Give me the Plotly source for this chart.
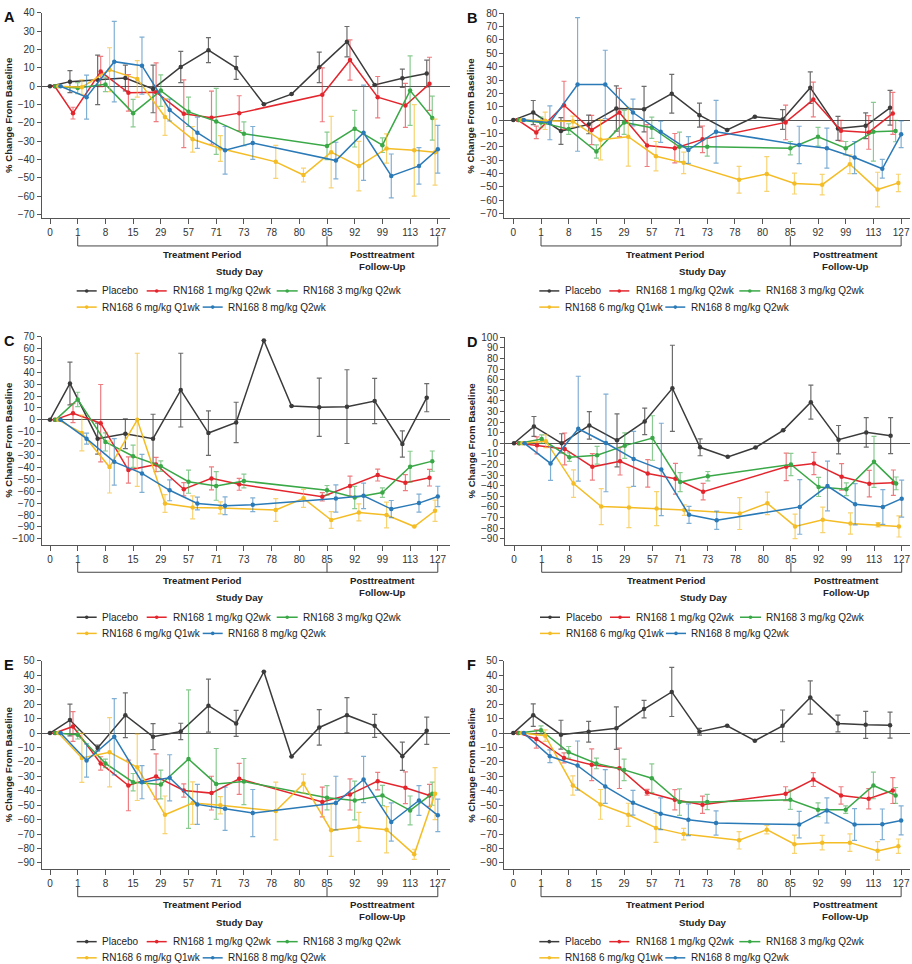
import plotly.graph_objects as go

W, H = 912, 964

TICK_DAYS = [0, 1, 8, 15, 29, 57, 71, 73, 78, 80, 85, 92, 99, 113, 127]
VISITS_PBO = TICK_DAYS
VISITS_Q2 = [0, 1, 8, 15, 29, 57, 71, 73, 85, 92, 99, 113, 127]
VISITS_Q1 = [0, 1, 8, 15, 29, 57, 71, 78, 80, 85, 92, 99, 113, 127]

SERIES = ["Placebo", "RN168 1 mg/kg Q2wk", "RN168 3 mg/kg Q2wk",
          "RN168 6 mg/kg Q1wk", "RN168 8 mg/kg Q2wk"]
SERIES_VISITS = [VISITS_PBO, VISITS_Q2, VISITS_Q2, VISITS_Q1, VISITS_Q2]

# ---------------- Panel A ----------------
A_PBO = [0, 2.5, 3.5, 4.5, -1.5, 10.5, 19.7, 10, -9.8, -4.3, 10.3, 24.3, 0.7, 4.3, 6.9]
A_PBO_SE = [0, 6, 13.5, 7, 13, 8.5, 6.8, 6.3, 0, 0, 8.3, 8.3, 0, 5, 7.3]
A_1MG = [0, -14.7, 8, -3.6, -3.3, -15, -17.2, -14.7, -4.7, 14.3, -6, -10.5, 1.3]
A_1MG_SE = [0, 3.2, 8.3, 10, 16, 18.5, 14.5, 9.5, 14.7, 11, 11.3, 12, 14.5]
A_3MG = [0, -1, 1, -14.7, -2.4, -14, -19.2, -26, -32.6, -23.2, -32.2, -2.4, -17.4]
A_3MG_SE = [0, 3, 4, 7.5, 8.6, 8, 18, 6.5, 7.5, 10, 4, 19, 12]
A_6MG = [0, -0.5, 9, 4, -16.8, -29, -34, -41.3, -48.5, -36, -43.6, -34, -35, -36]
A_6MG_SE = [0, 4, 12, 10, 10, 7, 7, 9, 3.8, 19.5, 13.5, 8, 25, 18]
A_8MG = [0, -6, 13.4, 11.2, -13, -25.4, -35, -31, -40.6, -25.4, -49, -43.5, -34.4]
A_8MG_SE = [0, 12, 22, 15.6, 6, 8.5, 13, 9, 10, 26, 12, 10, 13]

# ---------------- Panel B ----------------
B_PBO = [0, 5.7, -8.2, -3.2, 8.7, 8.2, 19.8, 3.7, -7.4, 2.5, 0.5, 24.3, -6.2, -4.2, 9.2]
B_PBO_SE = [0, 9, 10, 7, 17, 17, 14.5, 9, 0, 0, 7.4, 11.8, 9, 9.6, 13]
B_1MG = [0, -9.2, 11.1, -7.4, 5.7, -19, -21, -14.4, -1.7, 15.4, -7.9, -9.2, 5]
B_1MG_SE = [0, 4.7, 18, 11, 18, 15.7, 11, 10, 13, 13, 7.8, 12.6, 15.7]
B_3MG = [0, -1.7, -6.7, -23.5, -1.7, -5.7, -20, -20, -21, -12.4, -21, -8.7, -8.2]
B_3MG_SE = [0, 4, 4, 5, 9, 8, 11, 7, 5, 7, 5, 22, 8]
B_6MG = [0, -0.5, -1, -14.7, -12.4, -27, -32, -44.6, -40.3, -47.5, -48.3, -33, -52, -47]
B_6MG_SE = [0, 6.5, 4, 15, 22, 11, 8, 10, 13, 7.8, 7.7, 7, 13, 6.5]
B_8MG = [0, -2, 26.7, 26.7, 5.7, -8.7, -22.3, -8.7, -18.6, -21, -28, -36.4, -10.6]
B_8MG_SE = [0, 12.7, 50, 25.6, 10, 8, 10, 23.5, 14, 15, 12, 7, 10]

# ---------------- Panel C ----------------
C_PBO = [0, 30.6, -15.8, -11.7, -15.8, 25, -11.1, -2.2, 66.7, 11.7, 10.6, 11.1, 15.8, -20.3, 18.6]
C_PBO_SE = [0, 18, 13, 12.5, 20.5, 31, 18.7, 17, 0, 0, 24.5, 31, 19, 11, 11.8]
C_1MG = [0, 5.6, -2.8, -42.2, -37.5, -58.3, -49.2, -54.2, -64.7, -55.6, -46.4, -52.8, -48.6]
C_1MG_SE = [0, 8, 32.5, 11, 6, 5.6, 9.7, 5, 3.5, 8.3, 5, 6.7, 7]
C_3MG = [0, 17.2, -18.6, -30.6, -38.9, -52, -55.6, -51.4, -59.2, -65.3, -61.1, -39.4, -34.7]
C_3MG_SE = [0, 6, 7.6, 9.4, 4.4, 9.7, 12, 5.8, 4, 9.3, 4, 13, 8.5]
C_6MG = [0, -11.1, -39.7, 0, -70.3, -73.6, -74, -75.8, -66, -84.2, -77.8, -80, -89.7, -76.4]
C_6MG_SE = [0, 15, 21.8, 56, 7.4, 9.7, 5, 9.6, 7.6, 7, 7.2, 10.8, 0, 9]
C_8MG = [0, -15.8, -35.3, -45, -59.2, -70.3, -72.2, -71.4, -66.1, -63.9, -75, -70, -64.4]
C_8MG_SE = [0, 4.6, 19.5, 16, 8.8, 5.3, 7.5, 5.8, 11.5, 10.7, 7.2, 7.6, 8.6]

# ---------------- Panel D ----------------
D_PBO = [0, 15.9, 0, 16.9, 2.8, 20.6, 51.9, -3.75, -12.8, -4, 12.2, 38.8, 3.4, 10.3, 7.2]
D_PBO_SE = [0, 9.4, 9, 13, 25, 12.5, 40.6, 8, 0, 0, 0, 16, 13.4, 14, 17]
D_1MG = [0, -1.9, -5.3, -22.2, -16.9, -28.4, -33.4, -45.6, -22.2, -19, -31.6, -38.1, -37.2]
D_1MG_SE = [0, 8, 15, 12.5, 13, 13, 14.5, 7.8, 13, 10.5, 12.5, 12.5, 12]
D_3MG = [0, 4, -13.1, -11.25, -2.2, 5, -36.6, -31, -20, -41.2, -43.4, -17.5, -37.8]
D_3MG_SE = [0, 4, 4, 8.4, 12, 21, 9, 4.4, 10.5, 9, 6, 24, 6]
D_6MG = [0, 2, -38, -59.7, -60.6, -61.6, -63, -66.3, -56.6, -78.4, -72.2, -75.6, -76.9, -78.4]
D_6MG_SE = [0, 6, 13, 17, 19, 16, 5, 15, 10.6, 11.6, 12, 10, 2, 10]
D_8MG = [0, -19, 13.75, 0.3, -14.7, -24.7, -67.5, -72.5, -60, -40.3, -57.5, -60, -52.2]
D_8MG_SE = [0, 16, 49.5, 46, 26, 43.6, 8, 8.6, 25.8, 23.4, 19.5, 16.4, 17.5]

# ---------------- Panel E ----------------
E_PBO = [0, 9, -10.3, 12.4, -2.5, 1.1, 19, 6.7, 42.5, -16.3, 3.9, 12.4, 5, -16.1, 1.6]
E_PBO_SE = [0, 11, 2, 15.5, 9, 5.7, 18.4, 9, 0, 0, 12.3, 12.2, 8, 9.8, 9.4]
E_1MG = [0, 4.6, -21, -36.3, -30.1, -39.8, -41.6, -31.7, -47.8, -42.5, -33.3, -37.9, -43.2]
E_1MG_SE = [0, 10.3, 4.6, 17.5, 15.7, 4.6, 11.7, 10.7, 10.3, 10.8, 6.1, 11, 7.6]
E_3MG = [0, -1.1, -21, -34, -35.6, -18, -35.2, -33.6, -44.8, -46.7, -43.2, -53.6, -42]
E_3MG_SE = [0, 3, 3, 6, 10, 48, 24.5, 16, 8.4, 13.4, 7, 10, 8]
E_6MG = [0, -17.2, -13.3, -23.7, -56.6, -48.5, -50, -54, -35, -67.4, -65, -67, -84, -42]
E_6MG_SE = [0, 17, 24, 23, 13, 14.7, 6, 20, 6.5, 18, 10, 16, 3.5, 18]
E_8MG = [0, -19, -2.5, -34, -31, -49.4, -52.4, -55.4, -48.5, -32.2, -61.6, -46.7, -57]
E_8MG_SE = [0, 11.5, 26.4, 11.5, 16, 13.8, 15, 16.3, 18.6, 16, 13.2, 10.3, 11.3]

# ---------------- Panel F ----------------
F_PBO = [0, 12.4, -1.1, 0.9, 3.4, 16.6, 28.5, 0.9, 5, -5.3, 5, 24.6, 6.7, 5.7, 5.5]
F_PBO_SE = [0, 7.8, 10, 7.2, 14.7, 6, 17, 2.3, 0, 0, 11, 11.5, 5.8, 9.4, 9]
F_1MG = [0, -4.1, -17.2, -22, -24.4, -41, -46.2, -49.7, -42, -32.2, -43.2, -45.5, -39.8]
F_1MG_SE = [0, 6.3, 3.5, 11, 14, 2, 7, 6, 4.8, 4.8, 6, 7, 9]
F_3MG = [0, 2, -13.3, -21, -25.5, -31.3, -47.8, -47.8, -46.2, -53.1, -53.1, -36.3, -43.2]
F_3MG_SE = [0, 3, 4, 3.7, 7.5, 10, 9.2, 5.3, 6.7, 4.8, 2.6, 9.2, 5.5]
F_6MG = [0, -1.8, -36.3, -49.4, -56.6, -65.7, -70, -74.3, -66.9, -77, -75.9, -75.9, -81.6, -78.4]
F_6MG_SE = [0, 4, 6.7, 10.3, 8, 10, 4, 6, 3, 6.3, 5, 6, 6.4, 5]
F_8MG = [0, -16.1, -22.5, -37, -48.3, -55.9, -60, -62.3, -63.4, -53.6, -63.4, -63.2, -60.5]
F_8MG_SE = [0, 4.4, 17, 11.7, 8.6, 11, 11, 8.4, 9.2, 8.7, 11, 10.6, 10]

PANEL_DATA = {
    "A": [(A_PBO, A_PBO_SE), (A_1MG, A_1MG_SE), (A_3MG, A_3MG_SE), (A_6MG, A_6MG_SE), (A_8MG, A_8MG_SE)],
    "B": [(B_PBO, B_PBO_SE), (B_1MG, B_1MG_SE), (B_3MG, B_3MG_SE), (B_6MG, B_6MG_SE), (B_8MG, B_8MG_SE)],
    "C": [(C_PBO, C_PBO_SE), (C_1MG, C_1MG_SE), (C_3MG, C_3MG_SE), (C_6MG, C_6MG_SE), (C_8MG, C_8MG_SE)],
    "D": [(D_PBO, D_PBO_SE), (D_1MG, D_1MG_SE), (D_3MG, D_3MG_SE), (D_6MG, D_6MG_SE), (D_8MG, D_8MG_SE)],
    "E": [(E_PBO, E_PBO_SE), (E_1MG, E_1MG_SE), (E_3MG, E_3MG_SE), (E_6MG, E_6MG_SE), (E_8MG, E_8MG_SE)],
    "F": [(F_PBO, F_PBO_SE), (F_1MG, F_1MG_SE), (F_3MG, F_3MG_SE), (F_6MG, F_6MG_SE), (F_8MG, F_8MG_SE)],
}

# ---------------- styling / layout ----------------
COLORS = ["#3b3b3b", "#e3262d", "#3aa847", "#f4bc25", "#2b7ab8"]
ERR_COLORS = ["rgba(59,59,59,0.75)", "rgba(227,38,45,0.6)", "rgba(58,168,71,0.6)",
              "rgba(244,188,37,0.65)", "rgba(43,122,184,0.6)"]
OFFSET = [-0.28, -0.17, 0.0, 0.15, 0.32]
FIRST = [0.0, 0.17, 0.2, 0.3, 0.38]
LAST = [-0.4, -0.3, -0.2, -0.1, 0.0]

FONT = "Liberation Sans, Arial, Helvetica, sans-serif"
TXT = "#222222"

# pixel geometry of each panel: left, right, top, bottom, x range, y range, y ticks
GEOM = {
    "A": dict(L=41.7, R=450, T=7, B=214, xr=[-0.3, 14.44], yr=[-72.2, 40], yt=(-70, 40)),
    "B": dict(L=504.3, R=910, T=7.3, B=214, xr=[-0.325, 14.32], yr=[-73.6, 80], yt=(-70, 80)),
    "C": dict(L=41.7, R=450, T=333, B=542.7, xr=[-0.3, 14.44], yr=[-105, 70], yt=(-100, 70)),
    "D": dict(L=505, R=910, T=333.7, B=542.7, xr=[-0.325, 14.3], yr=[-95.7, 100], yt=(-90, 100)),
    "E": dict(L=41.7, R=450, T=659.7, B=869.5, xr=[-0.3, 14.44], yr=[-94.3, 50], yt=(-90, 50)),
    "F": dict(L=504.3, R=910, T=659.7, B=869.5, xr=[-0.325, 14.32], yr=[-94.3, 50], yt=(-90, 50)),
}


def pos(day, g):
    i = TICK_DAYS.index(day)
    if i == 0:
        return FIRST[g]
    if i == len(TICK_DAYS) - 1:
        return i + LAST[g]
    return i + OFFSET[g]


def px(x):
    return x / W


def py(y):
    return 1 - y / H


fig = go.Figure()
layout = dict(width=W, height=H, margin=dict(l=0, r=0, t=0, b=0),
              paper_bgcolor="white", plot_bgcolor="white", showlegend=False,
              font=dict(family=FONT, size=10, color=TXT))
shapes = []
annotations = []

for k, (name, g) in enumerate(GEOM.items(), start=1):
    xa = "x" if k == 1 else f"x{k}"
    ya = "y" if k == 1 else f"y{k}"
    xkey = "xaxis" if k == 1 else f"xaxis{k}"
    ykey = "yaxis" if k == 1 else f"yaxis{k}"
    layout[xkey] = dict(domain=[px(g["L"]), px(g["R"])], range=g["xr"], anchor=ya,
                        tickmode="array", tickvals=list(range(len(TICK_DAYS))),
                        ticktext=[str(d) for d in TICK_DAYS],
                        showline=True, linecolor="#555", linewidth=1,
                        ticks="outside", ticklen=5, tickcolor="#555",
                        showgrid=False, zeroline=False,
                        tickfont=dict(family=FONT, size=10, color="#333"), fixedrange=True)
    layout[ykey] = dict(domain=[py(g["B"]), py(g["T"])], range=g["yr"], anchor=xa,
                        tickmode="array", tickvals=list(range(g["yt"][0], g["yt"][1] + 1, 10)),
                        showline=True, linecolor="#555", linewidth=1,
                        ticks="outside", ticklen=4, tickcolor="#555",
                        showgrid=False, zeroline=True, zerolinecolor="#555", zerolinewidth=1,
                        tickfont=dict(family=FONT, size=10, color="#333"), fixedrange=True)

    for s, (vals, se) in enumerate(PANEL_DATA[name]):
        visits = SERIES_VISITS[s]
        fig.add_trace(go.Scatter(
            x=[pos(d, s) for d in visits], y=vals, xaxis=xa, yaxis=ya,
            mode="lines+markers", name=SERIES[s],
            line=dict(color=COLORS[s], width=1.5),
            marker=dict(size=4.5, color=COLORS[s]),
            error_y=dict(type="data", array=[e if e else None for e in se],
                         color=ERR_COLORS[s], thickness=1.2, width=2.5),
            showlegend=False, hoverinfo="skip"))

    # bracket below the axis
    yb1 = py(g["B"] + 18)
    yb2 = py(g["B"] + 27.7)
    shapes.append(dict(type="line", xref=xa, yref="paper", x0=1, x1=14, y0=yb2, y1=yb2,
                       line=dict(color="#444", width=1)))
    for t in (1, 10, 14):
        shapes.append(dict(type="line", xref=xa, yref="paper", x0=t, x1=t, y0=yb1, y1=yb2,
                           line=dict(color="#444", width=1)))
    annotations.append(dict(text="<b>Treatment Period</b>", xref=xa, yref="paper", x=5.5,
                            y=py(g["B"] + 36), showarrow=False, xanchor="center", yanchor="middle",
                            font=dict(family=FONT, size=9.6, color=TXT)))
    annotations.append(dict(text="<b>Posttreatment<br>Follow-Up</b>", xref=xa, yref="paper", x=12,
                            y=py(g["B"] + 42), showarrow=False, xanchor="center", yanchor="middle",
                            font=dict(family=FONT, size=9.6, color=TXT)))
    annotations.append(dict(text="<b>Study Day</b>", xref=xa, yref="paper", x=6.85,
                            y=py(g["B"] + 53.3), showarrow=False, xanchor="center", yanchor="middle",
                            font=dict(family=FONT, size=9.6, color=TXT)))
    # y-axis title
    annotations.append(dict(text="<b>% Change From Baseline</b>", xref="paper", yref="paper",
                            x=px(g["L"] - 33.5), y=py((g["T"] + g["B"]) / 2), textangle=-90,
                            showarrow=False, xanchor="center", yanchor="middle",
                            font=dict(family=FONT, size=9.6, color=TXT)))
    # panel letter
    annotations.append(dict(text=f"<b>{name}</b>", xref="paper", yref="paper",
                            x=px(g["L"] - 32.5), y=py(g["T"] + 4.5), showarrow=False,
                            xanchor="center", yanchor="middle",
                            font=dict(family=FONT, size=14.5, color="#111")))
    # legend
    items = [(0, 35, 55, 58.5, 0), (0, 105, 125, 129.3, 1), (0, 235, 256, 259.3, 2),
             (1, 35, 55, 58.5, 3), (1, 161, 181, 184.3, 4)]
    for row, a, b, t, s in items:
        yy = py(g["B"] + 73 + row * 16.3)
        shapes.append(dict(type="line", xref="paper", yref="paper",
                           x0=px(g["L"] + a), x1=px(g["L"] + b), y0=yy, y1=yy,
                           line=dict(color=COLORS[s], width=1.5)))
        cx = g["L"] + (a + b) / 2
        cy = g["B"] + 73 + row * 16.3
        shapes.append(dict(type="circle", xref="paper", yref="paper",
                           x0=px(cx - 1.8), x1=px(cx + 1.8), y0=py(cy + 1.8), y1=py(cy - 1.8),
                           fillcolor=COLORS[s], line=dict(color=COLORS[s], width=0)))
        annotations.append(dict(text=SERIES[s], xref="paper", yref="paper",
                                x=px(g["L"] + t), y=yy, showarrow=False,
                                xanchor="left", yanchor="middle",
                                font=dict(family=FONT, size=10, color=TXT)))

layout["shapes"] = shapes
layout["annotations"] = annotations
fig.update_layout(**layout)
fig.write_html("out.html")
